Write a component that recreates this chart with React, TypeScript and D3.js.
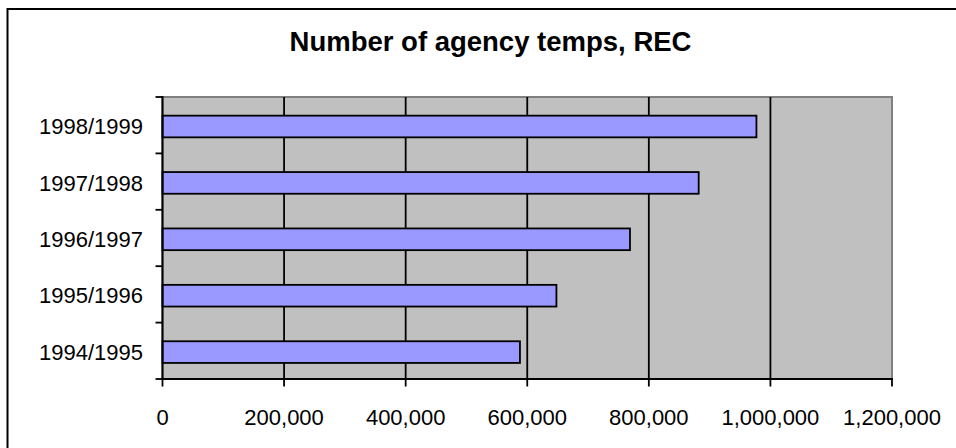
import React from "react";
import * as d3 from "d3";

const categories = ["1998/1999", "1997/1998", "1996/1997", "1995/1996", "1994/1995"];
const values = [977000, 882000, 769000, 648000, 588000];
const xTicks = [0, 200000, 400000, 600000, 800000, 1000000, 1200000];
const title = "Number of agency temps, REC";

export default function App() {
  const W = 956;
  const H = 448;
  const left = 162.5;
  const right = 892;
  const top = 97;
  const bottom = 379;
  const font = "'Liberation Sans', Arial, sans-serif";

  const x = d3.scaleLinear().domain([0, 1200000]).range([left, right]);
  const y = d3.scaleBand().domain(categories).range([top, bottom]).paddingInner(0).paddingOuter(0);
  const bw = y.bandwidth();
  const barH = bw / 2.6;
  const fmt = d3.format(",");

  const bounds = d3.range(categories.length + 1).map((i) => top + i * bw);

  return (
    <svg width={W} height={H} style={{ position: "absolute", left: 0, top: 0 }}>
      <rect x={0} y={0} width={W} height={H} fill="#fff" />
      <rect x={7.5} y={9} width={980} height={460} fill="none" stroke="#000" strokeWidth={2} />
      <text x={490.5} y={50.5} textAnchor="middle" fontFamily={font} fontWeight="bold" fontSize={27.5} fill="#000">
        {title}
      </text>
      {/* plot area */}
      <rect x={left} y={top} width={right - left} height={bottom - top} fill="#c0c0c0" stroke="#808080" strokeWidth={2} />
      {/* gridlines */}
      {xTicks.slice(1, -1).map((t) => (
        <line key={"g" + t} x1={x(t)} x2={x(t)} y1={top} y2={bottom} stroke="#000" strokeWidth={1.8} />
      ))}
      {/* bars */}
      {categories.map((c, i) => {
        const cy = (y(c) as number) + bw / 2 + 1.3;
        return (
          <rect
            key={c}
            x={x(0)}
            y={cy - barH / 2}
            width={x(values[i]) - x(0)}
            height={barH}
            fill="#9999ff"
            stroke="#000"
            strokeWidth={1.8}
          />
        );
      })}
      {/* axes */}
      <line x1={left} x2={left} y1={top - 1} y2={bottom + 1} stroke="#000" strokeWidth={2} />
      <line x1={left - 1} x2={right + 1} y1={bottom} y2={bottom} stroke="#000" strokeWidth={2} />
      {bounds.map((b, i) => (
        <line key={"yt" + i} x1={155.5} x2={left} y1={b} y2={b} stroke="#000" strokeWidth={1.8} />
      ))}
      {xTicks.map((t) => (
        <line key={"xt" + t} x1={x(t)} x2={x(t)} y1={bottom} y2={386.5} stroke="#000" strokeWidth={1.8} />
      ))}
      {categories.map((c) => (
        <text
          key={"yl" + c}
          x={143}
          y={(y(c) as number) + bw / 2 + 1.5}
          textAnchor="end"
          dominantBaseline="central"
          fontFamily={font}
          fontSize={22}
          fill="#000"
        >
          {c}
        </text>
      ))}
      {xTicks.map((t) => (
        <text key={"xl" + t} x={x(t)} y={424.7} textAnchor="middle" fontFamily={font} fontSize={22} fill="#000">
          {fmt(t)}
        </text>
      ))}
    </svg>
  );
}
